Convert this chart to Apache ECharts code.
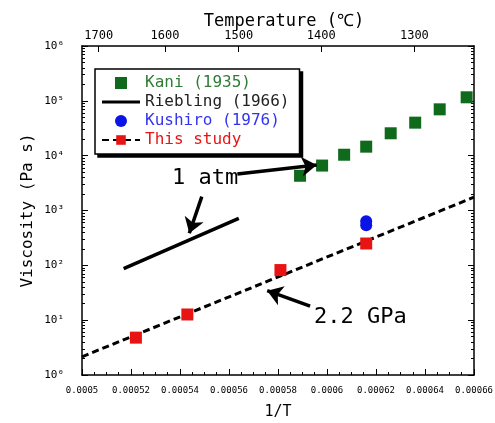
<!DOCTYPE html>
<html>
<head>
<meta charset="utf-8">
<script src="https://cdn.jsdelivr.net/npm/echarts@6/dist/echarts.min.js"></script>
<style>
  html, body { margin: 0; padding: 0; background: #fff; }
  #chart { width: 495px; height: 423px; }
</style>
</head>
<body>
<div id="chart"></div>
<script>
// 1/T (1/K) and viscosity (Pa s)
const kaniInvT = [0.000589, 0.000598, 0.000607, 0.000616, 0.000626, 0.000636, 0.000646, 0.000657];
const kaniVisc = [4300, 6600, 10400, 14600, 25600, 40000, 70000, 116000];

const riebInvT = [0.000517, 0.000564];
const riebVisc = [87, 720];

const kushiroInvT = [0.000616, 0.000616];
const kushiroVisc = [640, 540];

const studyInvT = [0.000522, 0.000543, 0.000581, 0.000616];
const studyVisc = [4.8, 12.7, 82, 250];

const fitInvT = [0.0005, 0.00066];
const fitVisc = [2.15, 1750];

const tempTicks = [1700, 1600, 1500, 1400, 1300]; // deg C on the top axis

const FONT = "DejaVu Sans Mono";
const SUP = "⁰¹²³⁴⁵⁶⁷⁸⁹";
const GREEN = "#0f6a1c";
const BLUE = "#0a14e6";
const RED = "#e81414";

const pairs = (xs, ys) => xs.map((x, i) => [x, ys[i]]);

const tempPos = tempTicks.map(t => 1 / (t + 273.15));
const minorLog = [];
for (let e = 0; e < 6; e++) {
  for (let m = 2; m <= 9; m++) minorLog.push(m * Math.pow(10, e));
}

// square centred in a 38x12 legend box (tiny corner specks fix the bounds)
const squareIcon = "path://M0,0L0.01,0L0,0.01Z M13,0H25V12H13Z M38,12L37.99,12L38,11.99Z";

const legendItems = [
  { name: "Kani (1935)", icon: squareIcon, textStyle: { color: "#2f7d36" } },
  { name: "Riebling (1966)", icon: "path://M0,0H38V3H0Z", textStyle: { color: "#222" } },
  { name: "Kushiro (1976)", textStyle: { color: "#3434f0" } },
  { name: "This study", textStyle: { color: RED } }
];

function legendBox(left, top, bg, z) {
  return {
    orient: "vertical",
    left, top, z,
    padding: [6, 10, 6, 6],
    itemGap: 3,
    itemWidth: 38,
    itemHeight: 12,
    backgroundColor: bg,
    borderColor: "#000",
    borderWidth: 1.5,
    textStyle: { fontFamily: FONT, fontSize: 16, lineHeight: 16 },
    data: legendItems
  };
}

const chart = echarts.init(document.getElementById("chart"));

const axisLine = { show: true, lineStyle: { color: "#000", width: 1.5 } };
const logBase = { type: "log", logBase: 10, min: 1, max: 1e6, splitLine: { show: false } };

chart.setOption({
  animation: false,
  textStyle: { fontFamily: FONT, color: "#000" },
  grid: { left: 82, right: 21, top: 46, bottom: 48, containLabel: false, outerBoundsMode: "none" },
  // a black copy of the legend offset by 3px gives the drop shadow
  legend: [legendBox(98, 72, "#000", 3), legendBox(95, 69, "#fff", 4)],
  xAxis: [
    {
      type: "value",
      position: "bottom",
      min: 0.0005,
      max: 0.00066,
      interval: 0.00002,
      axisLine,
      axisTick: { show: true, inside: true, length: 6, lineStyle: { color: "#000" } },
      minorTick: { show: true, splitNumber: 4, length: 3, lineStyle: { color: "#000" } },
      splitLine: { show: false },
      axisLabel: {
        fontSize: 9, color: "#000", margin: 11,
        formatter: v => String(+v.toFixed(5))
      },
      name: "1/T",
      nameLocation: "middle",
      nameGap: 30,
      nameMoveOverlap: false,
      nameTextStyle: { fontSize: 15, color: "#000" }
    },
    {
      type: "value",
      position: "top",
      min: 0.0005,
      max: 0.00066,
      axisLine,
      axisTick: { show: true, inside: true, length: 6, customValues: tempPos, lineStyle: { color: "#000" } },
      splitLine: { show: false },
      axisLabel: {
        fontSize: 12, color: "#000", margin: 4,
        customValues: tempPos,
        formatter: v => String(Math.round(1 / v - 273.15))
      },
      name: "Temperature (℃)",
      nameLocation: "middle",
      nameGap: 16,
      nameMoveOverlap: false,
      nameTextStyle: { fontSize: 17, color: "#000", padding: [0, 0, 0, 12] }
    }
  ],
  yAxis: [
    Object.assign({}, logBase, {
      position: "left",
      splitNumber: 6,
      axisLine,
      axisTick: { show: true, inside: true, length: 6, lineStyle: { color: "#000" } },
      axisLabel: {
        fontSize: 11, color: "#000", margin: 18,
        formatter: v => "10" + SUP[Math.round(Math.log10(v))]
      },
      name: "Viscosity (Pa s)",
      nameLocation: "middle",
      nameGap: 46,
      nameMoveOverlap: false,
      nameTextStyle: { fontSize: 16, color: "#000" }
    }),
    Object.assign({}, logBase, {
      position: "left",
      axisLine: { show: false },
      axisLabel: { show: false },
      axisTick: { show: true, inside: true, length: 3, customValues: minorLog, lineStyle: { color: "#000" } }
    }),
    Object.assign({}, logBase, {
      position: "right",
      splitNumber: 6,
      axisLine,
      axisLabel: { show: false },
      axisTick: { show: true, inside: true, length: 6, lineStyle: { color: "#000" } }
    }),
    Object.assign({}, logBase, {
      position: "right",
      axisLine: { show: false },
      axisLabel: { show: false },
      axisTick: { show: true, inside: true, length: 3, customValues: minorLog, lineStyle: { color: "#000" } }
    })
  ],
  series: [
    {
      name: "This study",
      type: "line",
      symbol: "rect",
      symbolSize: 11,
      itemStyle: { color: RED },
      lineStyle: { color: "#000", width: 3, type: [7, 4] },
      data: pairs(fitInvT, fitVisc).map(p => ({ value: p, symbol: "none" })),
      silent: true,
      z: 2
    },
    {
      name: "Kani (1935)",
      type: "scatter",
      symbol: "rect",
      symbolSize: 12,
      itemStyle: { color: GREEN, opacity: 1 },
      data: pairs(kaniInvT, kaniVisc),
      z: 3
    },
    {
      name: "Riebling (1966)",
      type: "line",
      symbol: "none",
      itemStyle: { color: "#000" },
      lineStyle: { color: "#000", width: 3.5 },
      data: pairs(riebInvT, riebVisc),
      z: 3
    },
    {
      name: "Kushiro (1976)",
      type: "scatter",
      symbol: "circle",
      symbolSize: 12,
      itemStyle: { color: BLUE, opacity: 1 },
      data: pairs(kushiroInvT, kushiroVisc),
      z: 3
    },
    {
      name: "This study",
      type: "scatter",
      symbol: "rect",
      symbolSize: 12,
      itemStyle: { color: RED, opacity: 1 },
      data: pairs(studyInvT, studyVisc),
      z: 4
    },
    {
      name: "notes",
      type: "line",
      data: [],
      silent: true,
      z: 5,
      markLine: {
        silent: true,
        symbol: ["none", "arrow"],
        symbolSize: 15,
        label: { show: false },
        lineStyle: { color: "#000", width: 3.5, type: "solid" },
        emphasis: { disabled: true },
        data: [
          [{ coord: [0.0005634, 4634] }, { coord: [0.0005958, 6761] }],
          [{ coord: [0.0005489, 1786] }, { coord: [0.0005438, 384] }],
          [{ coord: [0.0005931, 18.1] }, { coord: [0.0005756, 34.5] }]
        ]
      },
      markPoint: {
        silent: true,
        symbol: "rect",
        symbolSize: 0,
        label: {
          show: true, position: "right", distance: 0,
          fontFamily: FONT, fontSize: 22, color: "#000",
          formatter: p => p.name
        },
        data: [
          { name: "1 atm", coord: [0.0005367, 3920] },
          { name: "2.2 GPa", coord: [0.0005947, 11.5] }
        ]
      }
    }
  ]
});

window.addEventListener("resize", () => chart.resize());
</script>
</body>
</html>
